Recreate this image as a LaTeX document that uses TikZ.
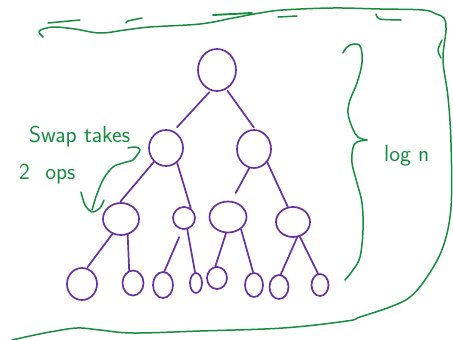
\documentclass[tikz,border=0pt]{standalone}
\usetikzlibrary{shapes.geometric}
\definecolor{pen}{RGB}{22,140,62}
\definecolor{vio}{RGB}{104,48,160}
\newcommand\tnode[5]{\node[tn,minimum width=#4pt,minimum height=#5pt] (#1) at (#2,#3) {};}
\begin{document}
\begin{tikzpicture}[x=1pt,y=-1pt,
  tn/.style={draw=vio,line width=1.7pt,ellipse,inner sep=0pt},
  te/.style={draw=vio,line width=1.7pt,line cap=round},
  gr/.style={draw=pen,line width=1.5pt,line cap=round,line join=round},
  lab/.style={text=pen,font=\sffamily\fontsize{23}{26}\selectfont,inner sep=0pt}]
\useasboundingbox (0,0) rectangle (453,340);
\fill[white] (0,0) rectangle (453,340);
% tree nodes
\tnode{t1}{217}{70}{38}{42}
\tnode{t2}{166}{148}{34}{36}
\tnode{t3}{254}{149}{34}{38}
\tnode{t4}{121}{219}{36}{32}
\tnode{t5}{184}{218}{22}{22}
\tnode{t6}{228}{217}{37}{31}
\tnode{t7}{293}{222}{34}{30}
\tnode{t8}{82}{284}{30}{32}
\tnode{t9}{133}{283}{21}{25}
\tnode{t10}{163}{285}{20}{26}
\tnode{t11}{196}{283}{12}{20}
\tnode{t12}{217}{278}{20}{22}
\tnode{t13}{254}{285}{18}{24}
\tnode{t14}{279}{287}{19}{24}
\tnode{t15}{320}{285}{17}{22}
% tree edges
\draw[te,shorten <=2pt,shorten >=5pt] (t1.253) -- (t2.66);
\draw[te,shorten <=2pt,shorten >=2pt] (t1.296) -- (t3.87);
\draw[te,shorten >=1pt] (t2.229) -- (t4.94);
\draw[te] (t2.307) -- (t5.55);
\draw[te,shorten >=9pt] (t3.256) -- (t6.78);
\draw[te] (t3.315) -- (t7.109);
\draw[te,shorten >=1pt] (t4.240) -- (t8.73);
\draw[te] (t4.293) -- (t9.107);
\draw[te,shorten <=8pt] (t5.262) -- (t10.84);
\draw[te] (t5.286) -- (t11.95);
\draw[te] (t6.263) -- (t12.98);
\draw[te] (t6.317) -- (t13.94);
\draw[te] (t7.285) -- (t14.82);
\draw[te] (t7.295) -- (t15.100);
% labels
\node[lab,anchor=base west] (swap) at (29,142) {Swap takes};
\node[lab,anchor=base west] (ops) at (19,179) {2\hspace{0.35em} ops};
\node[lab,anchor=base west] (logn) at (384,161) {log n};
% frame
\draw[gr] plot[smooth,tension=0.6] coordinates {(43,37) (39,32) (43,29) (55,27) (75,29) (100,33) (125,30) (150,27) (200,24) (233,18) (260,13) (283,10) (333,8) (380,9) (423,10) (436,14) (444,18) (446,30) (443,60) (448,97) (451,143) (451,207) (443,247) (427,277) (410,297) (390,307) (360,317) (347,321) (283,328) (200,331) (133,333) (100,330) (77,328) (50,332) (30,336) (12,340)};
\draw[gr] (48,23) -- (80,20);
\draw[gr] plot[smooth] coordinates {(126,23) (128,21) (142,18)};
\draw[gr,line width=1.9pt] (213,15) -- (252,13);
\draw[gr] (278,17) -- (297,16);
\draw[gr] plot[smooth] coordinates {(376,14) (380,19) (401,20)};
\draw[gr] plot[smooth] coordinates {(442,40) (438,50) (441,58)};
% brace
\draw[gr] plot[smooth,tension=0.6] coordinates {(343,53) (346,48) (350,45) (357,44) (361,48) (362,63) (357,83) (350,100) (348,113) (352,127) (358,137) (367,140)};
\draw[gr] plot[smooth,tension=0.6] coordinates {(367,140) (357,142) (353,148) (352,163) (357,183) (362,203) (363,230) (360,257) (353,270) (345,280)};
% swap arrow
\draw[gr] plot[smooth,tension=0.6] coordinates {(128,148) (136,147) (140,150) (137,155) (133,160) (123,163) (113,167) (104,178) (97,194) (92,210)};
\draw[gr] plot[smooth,tension=0.5] coordinates {(81,192) (85,205) (92,212) (100,208) (104,200)};
\end{tikzpicture}
\end{document}
